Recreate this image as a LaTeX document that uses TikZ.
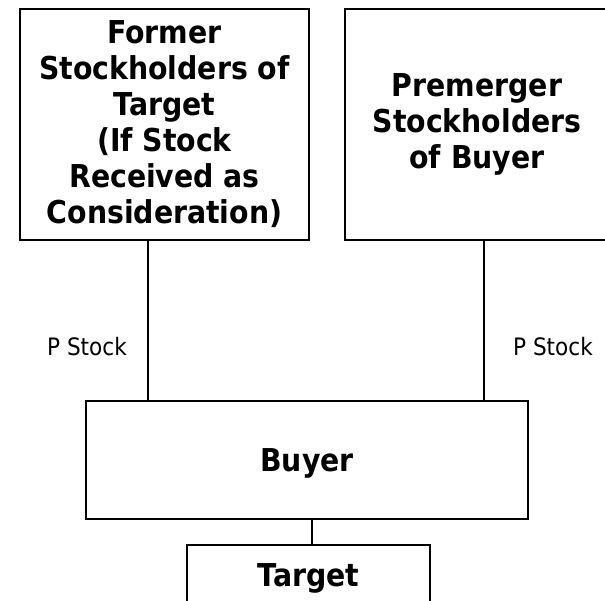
\documentclass[tikz,border=0pt]{standalone}
\usepackage{fontspec}
\newfontfamily\tahomalike{DejaVu Sans Condensed}
\begin{document}
\begin{tikzpicture}[x=1pt,y=-1pt,
  box/.style={draw, line width=2pt, inner sep=0pt, align=center,
    font=\tahomalike\bfseries\fontsize{31.5}{36}\selectfont},
  conn/.style={line width=2pt},
  lbl/.style={inner sep=0pt, font=\tahomalike\fontsize{24}{28}\selectfont}]
\useasboundingbox (0,0) rectangle (605,600);
\node[box, minimum width=289, minimum height=231] (fst) at (164.5,124.5)
  {Former\\Stockholders of\\Target\\(If Stock\\Received as\\Consideration)};
\node[box, minimum width=264, minimum height=231] (pre) at (477,124.5)
  {Premerger\\Stockholders\\of Buyer};
\node[box, text depth=0pt, minimum width=442, minimum height=118] (buyer) at (307,460) {Buyer};
\node[box, text depth=0pt, minimum width=243, minimum height=60] (tgt) at (308.5,575) {Target};
\coordinate (lx) at (148,0);
\coordinate (rx) at (484,0);
\coordinate (tx) at (312,0);
\draw[conn] (fst.south -| lx) -- (buyer.north -| lx);
\draw[conn] (pre.south -| rx) -- (buyer.north -| rx);
\draw[conn] (buyer.south -| tx) -- (tgt.north -| tx);
\node[lbl] (l1) at (87,347) {P Stock};
\node[lbl] (l2) at (553,347) {P Stock};
\end{tikzpicture}
\end{document}
